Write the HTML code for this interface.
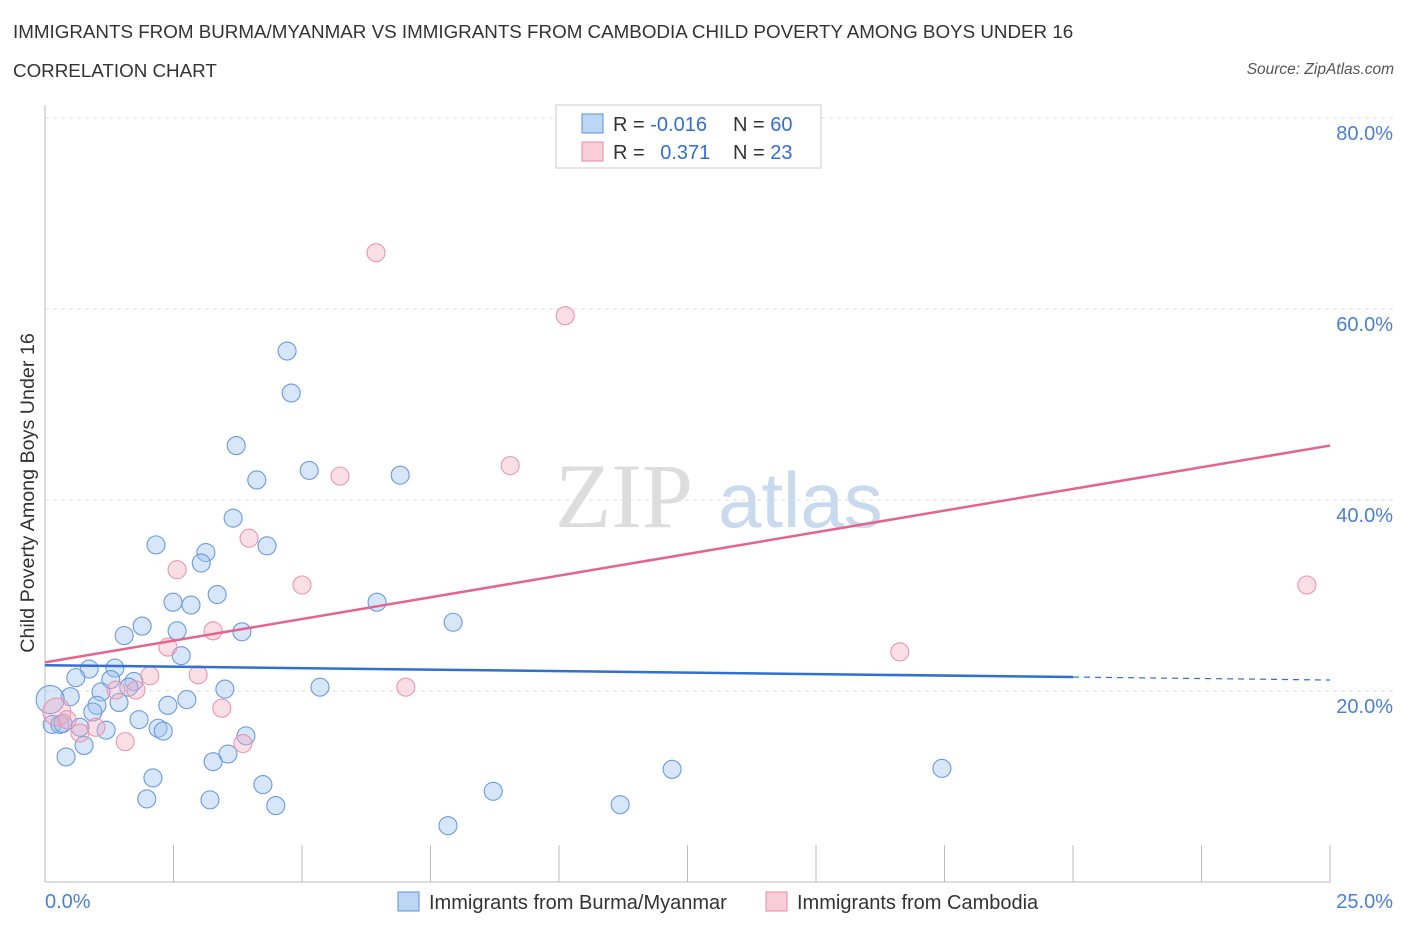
<!DOCTYPE html>
<html><head><meta charset="utf-8">
<style>
body{margin:0;background:#fff;font-family:"Liberation Sans",sans-serif;}
#wrap{position:relative;width:1406px;height:930px;overflow:hidden;}
.t{position:absolute;white-space:nowrap;}
</style></head>
<body>
<div id="wrap">
<div class="t" style="left:13px;top:21px;font-size:18.8px;color:#333;">IMMIGRANTS FROM BURMA/MYANMAR VS IMMIGRANTS FROM CAMBODIA CHILD POVERTY AMONG BOYS UNDER 16</div>
<div class="t" style="left:13px;top:60px;font-size:18.8px;color:#333;">CORRELATION CHART</div>
<div class="t" style="right:12px;top:61px;font-size:15.5px;color:#555;font-style:italic;">Source: ZipAtlas.com</div>
<svg id="chart" width="1406" height="930" style="position:absolute;left:0;top:0"></svg>
</div>
<script>
const xTicks=[0,2.5,5,7.5,10,12.5,15,17.5,20,22.5,25];
const yTicks=[20,40,60,80];
const yTickLabels=["20.0%","40.0%","60.0%","80.0%"];
const burmaX=[4.71,4.79,3.72,4.12,5.14,6.91,3.66,2.16,4.32,3.13,3.04,3.35,2.49,2.84,6.46,1.89,1.54,2.57,3.83,7.94,2.65,0.86,1.36,0.60,1.28,1.73,1.09,1.63,0.49,3.50,5.35,2.76,1.44,2.39,1.01,0.93,1.83,0.10,0.14,0.29,0.35,0.68,1.19,2.20,2.30,3.91,0.76,3.56,3.27,0.41,2.10,4.24,12.20,17.45,8.72,1.98,3.21,4.49,11.19,7.84];
const burmaY=[55.6,51.2,45.7,42.1,43.1,42.6,38.1,35.3,35.2,34.5,33.4,30.1,29.3,29.0,29.3,26.8,25.8,26.3,26.2,27.2,23.7,22.3,22.4,21.4,21.2,21.0,19.9,20.4,19.4,20.2,20.4,19.1,18.8,18.5,18.5,17.8,17.0,19.1,16.5,16.5,16.6,16.2,15.9,16.1,15.8,15.3,14.3,13.4,12.6,13.1,10.9,10.2,11.8,11.9,9.5,8.7,8.6,8.0,8.1,5.9];
const camX=[6.44,10.12,9.05,5.74,3.97,2.57,5.00,24.55,3.27,2.39,16.63,2.04,2.98,1.77,1.38,7.02,3.44,0.23,0.43,0.99,0.68,1.56,3.85];
const camY=[65.9,59.3,43.6,42.5,36.0,32.7,31.1,31.1,26.3,24.6,24.1,21.6,21.7,20.1,20.1,20.4,18.2,17.8,17.0,16.2,15.6,14.7,14.5];
const burmaTrend=[22.7,21.15];
const camTrend=[23.0,45.7];

const X0=45,X1=1330,Y0=882,Y80=118;
const sx=v=>X0+(v/25)*(X1-X0);
const sy=v=>Y0-(v/80)*(Y0-Y80);
const svg=document.getElementById('chart');
const NS='http://www.w3.org/2000/svg';
function mk(tag,attrs){const e=document.createElementNS(NS,tag);for(const k in attrs)e.setAttribute(k,attrs[k]);svg.appendChild(e);return e;}

let wm=mk('text',{x:555,y:527,'font-size':92,'font-family':'Liberation Serif, serif',fill:'#ddd'});wm.textContent='ZIP';


let wm2=mk('text',{x:718,y:527,'font-size':78,'font-family':'Liberation Sans, sans-serif',fill:'#c9d9ee'});wm2.textContent='atlas';



yTicks.forEach((v,i)=>{
 const g=mk('line',{x1:X0,x2:1395,y1:sy(v),y2:sy(v),stroke:'#ddd','stroke-dasharray':'4,4'});
 
 
 const t=mk('text',{x:1393,y:sy(v)+22,'text-anchor':'end','font-size':20,fill:'#4a7fd4'});t.textContent=yTickLabels[i];
 
 
});
let ya=mk('line',{x1:X0,x2:X0,y1:105,y2:Y0,stroke:'#bbb'});


let xa=mk('line',{x1:X0,x2:X1,y1:Y0,y2:Y0,stroke:'#bbb'});


xTicks.forEach(v=>{
 const l=mk('line',{x1:sx(v),x2:sx(v),y1:Y0,y2:Y0-37,stroke:'#bbb'});
 
 
});
let xl0=mk('text',{x:45,y:908,'font-size':20,fill:'#4a7fd4'});xl0.textContent='0.0%';


let xl1=mk('text',{x:1393,y:908,'text-anchor':'end','font-size':20,fill:'#4a7fd4'});xl1.textContent='25.0%';


let yt=mk('text',{x:34,y:493,'font-size':19.7,fill:'#333','text-anchor':'middle',transform:'rotate(-90 34 493)'});yt.textContent='Child Poverty Among Boys Under 16';



function pts(xs,ys,fill,stroke,name,bigIdx){
 xs.forEach((x,i)=>{
  const c=mk('circle',{cx:sx(x),cy:sy(ys[i]),r:i===bigIdx?14:9,fill:fill,stroke:stroke,'stroke-width':1.1});
  
  
 });
}
pts(burmaX,burmaY,'rgba(160,196,240,0.42)','#6a9ae0','burma-point',37);
pts(camX,camY,'rgba(244,170,192,0.38)','#ec94ae','cambodia-point',17);

let bt=mk('line',{x1:sx(0),y1:sy(burmaTrend[0]),x2:sx(20),y2:sy(burmaTrend[0]+(burmaTrend[1]-burmaTrend[0])*0.8),stroke:'#2f6fd6','stroke-width':2.5});


let bd=mk('line',{x1:sx(20),y1:sy(burmaTrend[0]+(burmaTrend[1]-burmaTrend[0])*0.8),x2:sx(25),y2:sy(burmaTrend[1]),stroke:'#2f6fd6','stroke-width':1.2,'stroke-dasharray':'6,5'});


let ct=mk('line',{x1:sx(0),y1:sy(camTrend[0]),x2:sx(25),y2:sy(camTrend[1]),stroke:'#e5648c','stroke-width':2.5});



let lb=mk('rect',{x:556,y:105,width:265,height:63,fill:'#fff',stroke:'#ccc'});


[[0,'rgba(160,196,240,0.7)','#5b8fdc','-0.016','60'],[1,'rgba(244,170,192,0.6)','#e98aa7',' 0.371','23']].forEach(r=>{
 const y=114+r[0]*28;
 const s=mk('rect',{x:582,y:y,width:21,height:19,fill:r[1],stroke:r[2]});
 
 
 const t=mk('text',{x:613,y:y+17,'font-size':20,fill:'#333'});
 t.innerHTML='R = <tspan fill="#2f6fd6">'+r[3].replace(' ','\u2002')+'</tspan>';
 
 
 const n=mk('text',{x:733,y:y+17,'font-size':20,fill:'#333'});
 n.innerHTML='N = <tspan fill="#2f6fd6">'+r[4]+'</tspan>';
 
 
});

[[398,'rgba(160,196,240,0.7)','#5b8fdc','Immigrants from Burma/Myanmar'],[766,'rgba(244,170,192,0.6)','#e98aa7','Immigrants from Cambodia']].forEach(r=>{
 const s=mk('rect',{x:r[0],y:892,width:21,height:19,fill:r[1],stroke:r[2]});
 
 
 const t=mk('text',{x:r[0]+31,y:909,'font-size':20,fill:'#333'});t.textContent=r[3];
 
 
});
</script>
</body></html>
